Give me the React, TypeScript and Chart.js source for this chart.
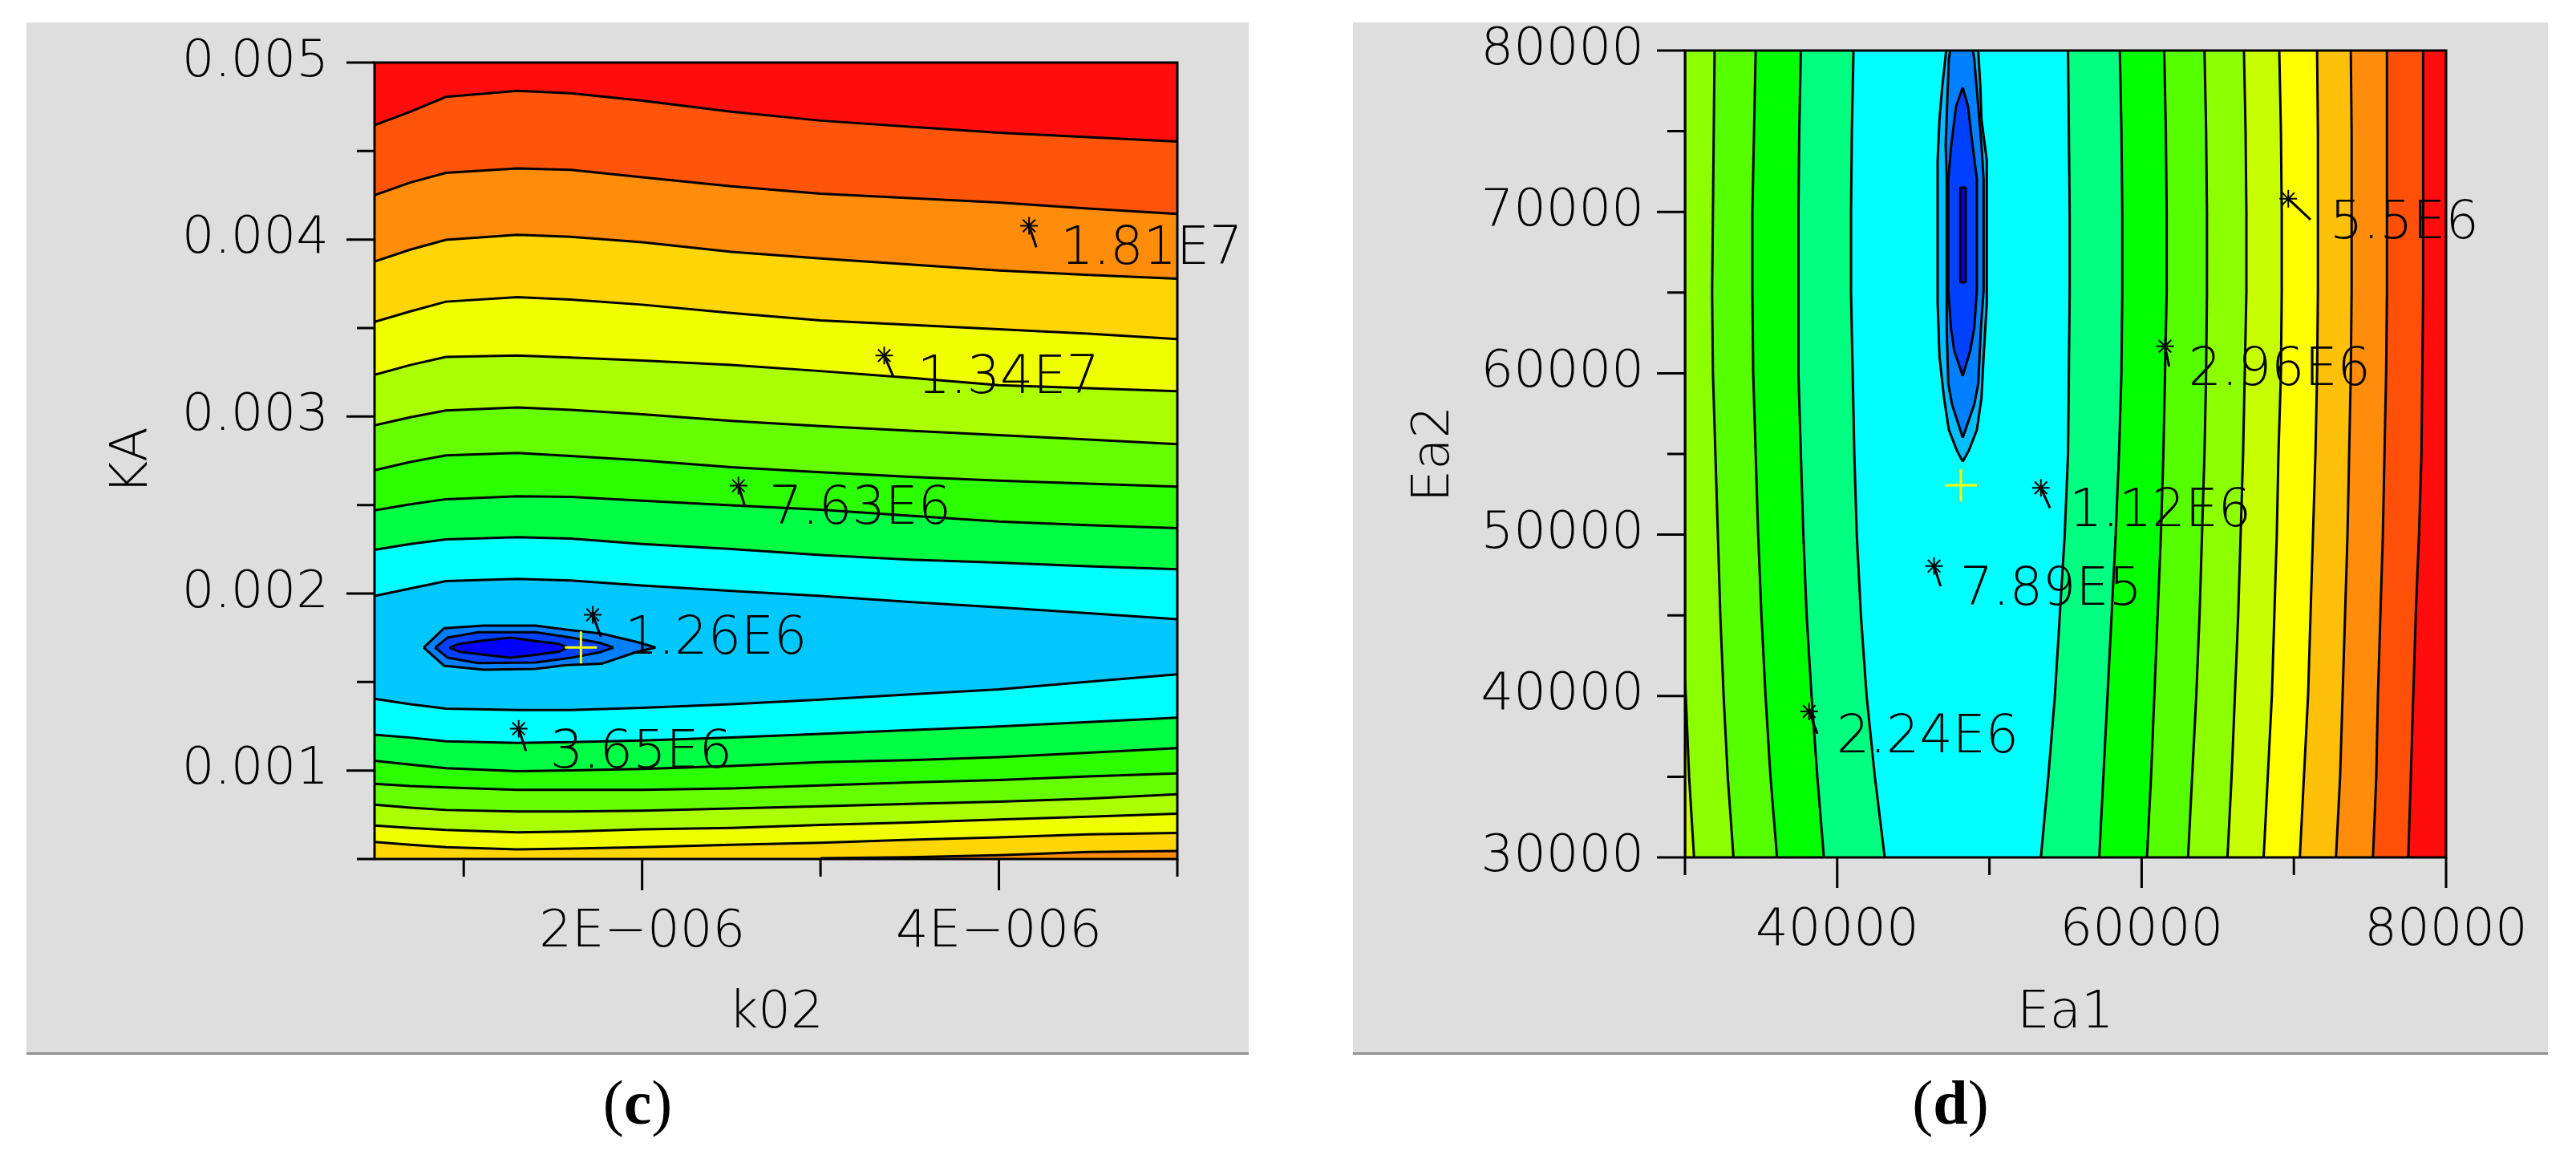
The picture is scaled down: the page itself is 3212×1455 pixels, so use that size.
import { useEffect, useRef } from "react";
import Chart from "chart.js/auto";

const FONT_FAMILY = '"DejaVu Sans"';

// ---- panel (c) ----
const K02_GRID = [0.5e-6, 0.7e-6, 0.9e-6, 1.3e-6, 1.6e-6, 2e-6, 2.5e-6, 3e-6, 3.5e-6, 4e-6, 4.5e-6, 5e-6];
const K02_TICKS = [1e-6, 2e-6, 3e-6, 4e-6, 5e-6];
const K02_TICK_LABELS = ["", "2E\u2212006", "", "4E\u2212006", ""];
const KA_TICKS = [0.5e-3, 1e-3, 1.5e-3, 2e-3, 2.5e-3, 3e-3, 3.5e-3, 4e-3, 4.5e-3, 5e-3];
const KA_TICK_LABELS = ["", "0.001", "", "0.002", "", "0.003", "", "0.004", "", "0.005"];

const KA_TOP = [5e-3, 5e-3, 5e-3, 5e-3, 5e-3, 5e-3, 5e-3, 5e-3, 5e-3, 5e-3, 5e-3, 5e-3];
const KA_LINE_1 = [4.646e-3, 4.722e-3, 4.806e-3, 4.84e-3, 4.827e-3, 4.785e-3, 4.722e-3, 4.672e-3, 4.638e-3, 4.604e-3, 4.579e-3, 4.554e-3];
const KA_LINE_2 = [4.251e-3, 4.322e-3, 4.377e-3, 4.402e-3, 4.394e-3, 4.352e-3, 4.301e-3, 4.259e-3, 4.234e-3, 4.209e-3, 4.175e-3, 4.145e-3];
const KA_LINE_3 = [3.876e-3, 3.943e-3, 3.998e-3, 4.027e-3, 4.015e-3, 3.985e-3, 3.931e-3, 3.893e-3, 3.859e-3, 3.825e-3, 3.8e-3, 3.779e-3];
const KA_LINE_4 = [3.535e-3, 3.594e-3, 3.649e-3, 3.674e-3, 3.661e-3, 3.632e-3, 3.585e-3, 3.543e-3, 3.518e-3, 3.493e-3, 3.468e-3, 3.438e-3];
const KA_LINE_5 = [3.236e-3, 3.291e-3, 3.337e-3, 3.345e-3, 3.333e-3, 3.316e-3, 3.291e-3, 3.257e-3, 3.219e-3, 3.177e-3, 3.16e-3, 3.143e-3];
const KA_LINE_6 = [2.95e-3, 2.996e-3, 3.034e-3, 3.051e-3, 3.038e-3, 3.013e-3, 2.975e-3, 2.946e-3, 2.92e-3, 2.895e-3, 2.87e-3, 2.844e-3];
const KA_LINE_7 = [2.697e-3, 2.743e-3, 2.781e-3, 2.794e-3, 2.777e-3, 2.752e-3, 2.714e-3, 2.685e-3, 2.659e-3, 2.638e-3, 2.621e-3, 2.604e-3];
const KA_LINE_8 = [2.47e-3, 2.504e-3, 2.533e-3, 2.55e-3, 2.546e-3, 2.525e-3, 2.499e-3, 2.474e-3, 2.44e-3, 2.407e-3, 2.386e-3, 2.369e-3];
const KA_LINE_9 = [2.247e-3, 2.28e-3, 2.306e-3, 2.318e-3, 2.31e-3, 2.28e-3, 2.251e-3, 2.217e-3, 2.192e-3, 2.175e-3, 2.154e-3, 2.137e-3];
const KA_LINE_10 = [1.986e-3, 2.028e-3, 2.07e-3, 2.083e-3, 2.074e-3, 2.045e-3, 2.015e-3, 1.986e-3, 1.952e-3, 1.922e-3, 1.889e-3, 1.855e-3];
const KA_LINE_11 = [1.405e-3, 1.375e-3, 1.35e-3, 1.342e-3, 1.342e-3, 1.354e-3, 1.375e-3, 1.401e-3, 1.43e-3, 1.459e-3, 1.501e-3, 1.544e-3];
const KA_LINE_12 = [1.203e-3, 1.186e-3, 1.165e-3, 1.156e-3, 1.16e-3, 1.169e-3, 1.186e-3, 1.207e-3, 1.228e-3, 1.249e-3, 1.274e-3, 1.299e-3];
const KA_LINE_13 = [1.055e-3, 1.034e-3, 1.013e-3, 0.996e-3, 1.001e-3, 1.009e-3, 1.026e-3, 1.047e-3, 1.059e-3, 1.076e-3, 1.101e-3, 1.127e-3];
const KA_LINE_14 = [0.925e-3, 0.912e-3, 0.904e-3, 0.891e-3, 0.891e-3, 0.891e-3, 0.899e-3, 0.916e-3, 0.933e-3, 0.946e-3, 0.967e-3, 0.984e-3];
const KA_LINE_15 = [0.807e-3, 0.79e-3, 0.777e-3, 0.769e-3, 0.769e-3, 0.773e-3, 0.786e-3, 0.798e-3, 0.811e-3, 0.824e-3, 0.841e-3, 0.866e-3];
const KA_LINE_16 = [0.689e-3, 0.676e-3, 0.664e-3, 0.651e-3, 0.655e-3, 0.668e-3, 0.676e-3, 0.693e-3, 0.706e-3, 0.723e-3, 0.739e-3, 0.756e-3];
const KA_LINE_17 = [0.596e-3, 0.58e-3, 0.567e-3, 0.554e-3, 0.559e-3, 0.567e-3, 0.58e-3, 0.592e-3, 0.609e-3, 0.622e-3, 0.639e-3, 0.647e-3];
const KA_EDGE_K02 = [3e-6, 3.5e-6, 4e-6, 4.5e-6, 5e-6];
const KA_EDGE = [0.505e-3, 0.51e-3, 0.522e-3, 0.54e-3, 0.545e-3];

// colour below each line, top to bottom
const KA_LINES = [KA_LINE_1, KA_LINE_2, KA_LINE_3, KA_LINE_4, KA_LINE_5, KA_LINE_6, KA_LINE_7, KA_LINE_8, KA_LINE_9, KA_LINE_10, KA_LINE_11, KA_LINE_12, KA_LINE_13, KA_LINE_14, KA_LINE_15, KA_LINE_16, KA_LINE_17];
const KA_BAND_COLORS = ["#FF550A", "#FF8C0A", "#FFD605", "#F0FF00", "#AAFF00", "#66FF00", "#2BFF00", "#00FF44", "#00FFFF", "#00C8FF", "#00FFFF", "#00FF44", "#2BFF00", "#66FF00", "#AAFF00", "#F0FF00", "#FFD605"];

const BLOB1_K02 = [0.776e-6, 0.89e-6, 1.111e-6, 1.402e-6, 1.573e-6, 1.773e-6, 1.964e-6, 2.075e-6];
const BLOB1_UP = [1.695e-3, 1.804e-3, 1.819e-3, 1.819e-3, 1.796e-3, 1.773e-3, 1.728e-3, 1.695e-3];
const BLOB1_LOW = [1.695e-3, 1.592e-3, 1.569e-3, 1.574e-3, 1.595e-3, 1.603e-3, 1.668e-3, 1.695e-3];
const BLOB2_K02 = [0.84e-6, 0.91e-6, 1.081e-6, 1.402e-6, 1.603e-6, 1.763e-6, 1.84e-6];
const BLOB2_UP = [1.695e-3, 1.751e-3, 1.781e-3, 1.781e-3, 1.751e-3, 1.721e-3, 1.695e-3];
const BLOB2_LOW = [1.695e-3, 1.637e-3, 1.607e-3, 1.61e-3, 1.637e-3, 1.668e-3, 1.695e-3];
const BLOB3_K02 = [0.92e-6, 0.977e-6, 1.121e-6, 1.262e-6, 1.402e-6, 1.533e-6, 1.582e-6];
const BLOB3_UP = [1.695e-3, 1.716e-3, 1.736e-3, 1.751e-3, 1.731e-3, 1.716e-3, 1.695e-3];
const BLOB3_LOW = [1.695e-3, 1.671e-3, 1.653e-3, 1.637e-3, 1.653e-3, 1.671e-3, 1.695e-3];

const C_BEST = { x: 1.657e-6, y: 1.695e-3 };
const C_MARK_TEXT = ["1.81E7", "1.34E7", "7.63E6", "1.26E6", "3.65E6"];
const C_MARK_X = [4.169e-6, 3.357e-6, 2.54e-6, 1.723e-6, 1.308e-6];
const C_MARK_Y = [4.078e-3, 3.345e-3, 2.609e-3, 1.88e-3, 1.236e-3];
const C_TAIL_X = [4.21e-6, 3.407e-6, 2.577e-6, 1.769e-6, 1.349e-6];
const C_TAIL_Y = [3.956e-3, 3.228e-3, 2.491e-3, 1.754e-3, 1.11e-3];

// ---- panel (d) ----
const EA2_GRID = [30000, 35000, 40000, 45000, 50000, 55000, 60000, 65000, 70000, 75000, 80000];
const EA2_TICKS = [30000, 35000, 40000, 45000, 50000, 55000, 60000, 65000, 70000, 75000, 80000];
const EA2_TICK_LABELS = ["30000", "", "40000", "", "50000", "", "60000", "", "70000", "", "80000"];
const EA1_TICKS = [30000, 40000, 50000, 60000, 70000, 80000];
const EA1_TICK_LABELS = ["", "40000", "", "60000", "", "80000"];

const EA1_LEFT = [30000, 30000, 30000, 30000, 30000, 30000, 30000, 30000, 30000, 30000, 30000];
const EA1_LINE_1 = [33186, 32808, 32538, 32322, 32160, 31998, 31836, 31782, 31836, 31890, 31944];
const EA1_LINE_2 = [36048, 35616, 35292, 35022, 34806, 34644, 34482, 34428, 34428, 34536, 34644];
const EA1_LINE_3 = [39126, 38694, 38316, 37992, 37776, 37614, 37452, 37452, 37452, 37506, 37614];
const EA1_LINE_4 = [43122, 42474, 41934, 41556, 41286, 41124, 41016, 40908, 40908, 40962, 41070];
const EA1_LINE_5 = [53382, 53868, 54300, 54624, 54948, 55164, 55218, 55272, 55272, 55218, 55164];
const EA1_LINE_6 = [57216, 57486, 57756, 58026, 58296, 58512, 58674, 58728, 58728, 58674, 58566];
const EA1_LINE_7 = [60348, 60618, 60834, 61050, 61266, 61428, 61536, 61644, 61644, 61590, 61482];
const EA1_LINE_8 = [63048, 63318, 63588, 63804, 63966, 64128, 64236, 64290, 64290, 64236, 64128];
const EA1_LINE_9 = [65640, 65910, 66126, 66342, 66504, 66666, 66774, 66882, 66882, 66828, 66720];
const EA1_LINE_10 = [68016, 68286, 68556, 68718, 68880, 68988, 69150, 69204, 69204, 69150, 69042];
const EA1_LINE_11 = [70392, 70662, 70932, 71094, 71256, 71418, 71526, 71580, 71580, 71580, 71526];
const EA1_LINE_12 = [72768, 73038, 73200, 73362, 73524, 73632, 73740, 73794, 73794, 73794, 73740];
const EA1_LINE_13 = [75198, 75414, 75522, 75684, 75846, 75954, 76062, 76116, 76116, 76116, 76116];
const EA1_LINE_14 = [77520, 77682, 77844, 78006, 78222, 78384, 78438, 78492, 78492, 78492, 78492];
const EA1_CORNER = [30594, 30270, 30054, 30000];
const EA2_CORNER = [30000, 35000, 40000, 41000];

// colour to the right of each line, left to right
const EA1_LINES = [EA1_LEFT, EA1_LINE_1, EA1_LINE_2, EA1_LINE_3, EA1_LINE_4, EA1_LINE_5, EA1_LINE_6, EA1_LINE_7, EA1_LINE_8, EA1_LINE_9, EA1_LINE_10, EA1_LINE_11, EA1_LINE_12, EA1_LINE_13, EA1_LINE_14];
const EA1_BAND_COLORS = ["#8CFF00", "#55FF00", "#00FF00", "#00FF80", "#00FFFF", "#00FF80", "#00FF00", "#55FF00", "#8CFF00", "#C8FF00", "#FFFF00", "#FFC00A", "#FF8C0A", "#FF500A", "#FF0D0D"];

const D_BLOB1_Y = [54531, 55219, 56496, 58460, 61014, 64353, 73193, 75747, 77711, 80000];
const D_BLOB1_L = [48248, 47861, 47334, 47018, 46720, 46597, 46597, 46720, 46895, 47159];
const D_BLOB1_R = [48248, 48652, 49179, 49477, 49618, 49829, 49829, 49477, 49407, 49266];
const D_BLOB2_Y = [56004, 58067, 59344, 62782, 65139, 72014, 74175, 79479, 80000];
const D_BLOB2_L = [48248, 47545, 47299, 47194, 47194, 47194, 47124, 47334, 47422];
const D_BLOB2_R = [48248, 49003, 49266, 49442, 49618, 49618, 49477, 49003, 48915];
const D_BLOB3_Y = [59835, 61407, 62782, 65139, 72014, 73979, 75354, 76533, 77711];
const D_BLOB3_L = [48248, 47686, 47475, 47299, 47299, 47475, 47650, 47809, 48248];
const D_BLOB3_R = [48248, 48740, 49003, 49179, 49179, 48915, 48740, 48599, 48248];
const D_BLOB4_Y = [65600, 65680, 71480, 71523];
const D_BLOB4_L = [48265, 48090, 48090, 48265];
const D_BLOB4_R = [48265, 48441, 48441, 48265];

const D_BEST = { x: 48125, y: 53058 };
const D_MARK_TEXT = ["5.5E6", "2.96E6", "1.12E6", "7.89E5", "2.24E6"];
const D_MARK_X = [69636, 61536, 53382, 46362, 38154];
const D_MARK_Y = [70812, 61671, 52898, 48050, 39047];
const D_TAIL_X = [71094, 61806, 53976, 46794, 38694];
const D_TAIL_Y = [69519, 60424, 51652, 46804, 37662];

const zip = (xs: number[], ys: number[]) => xs.map((x, i) => ({ x, y: ys[i] }));

const contour = (data: any[], color: string, fill: any) => ({
  data,
  borderColor: "#000",
  borderWidth: 3,
  backgroundColor: color,
  fill,
  pointRadius: 0,
  tension: 0,
});

const markers = (xs: number[], ys: number[], tx: number[], ty: number[]) =>
  xs.map((x, i) => ({
    data: [{ x, y: ys[i] }, { x: tx[i], y: ty[i] }],
    borderColor: "#000",
    borderWidth: 3,
    fill: false,
    pointStyle: "star",
    pointRadius: [11, 0],
    pointBorderColor: "#000",
    pointBorderWidth: 2,
  }));

const bestPoint = (p: { x: number; y: number }) => ({
  data: [p],
  showLine: false,
  fill: false,
  pointStyle: "cross",
  pointRadius: 20,
  pointBorderColor: "#FFFF00",
  pointBorderWidth: 3,
});

// axis box, ticks and the value notes next to the stars
function decorPlugin(longTick: number, shortTick: number, marks: { text: string[]; x: number[]; y: number[]; gap: number; drop: number }) {
  return {
    id: "decor",
    afterDatasetsDraw(chart: any) {
      const { ctx, chartArea: a, scales } = chart;
      ctx.save();
      ctx.strokeStyle = "#000";
      ctx.lineWidth = 3;
      ctx.strokeRect(a.left, a.top, a.right - a.left, a.bottom - a.top);
      ctx.beginPath();
      scales.x.ticks.forEach((t: any, i: number) => {
        const px = scales.x.getPixelForTick(i);
        ctx.moveTo(px, a.bottom);
        ctx.lineTo(px, a.bottom + (t.label ? longTick : shortTick));
      });
      scales.y.ticks.forEach((t: any, i: number) => {
        const py = scales.y.getPixelForTick(i);
        ctx.moveTo(a.left, py);
        ctx.lineTo(a.left - (t.label ? 35 : 22), py);
      });
      ctx.stroke();
      ctx.fillStyle = "#000";
      ctx.font = `200 65px ${FONT_FAMILY}`;
      ctx.textAlign = "left";
      ctx.textBaseline = "middle";
      marks.text.forEach((s, i) => {
        ctx.fillText(s, scales.x.getPixelForValue(marks.x[i]) + marks.gap, scales.y.getPixelForValue(marks.y[i]) + marks.drop);
      });
      ctx.restore();
    },
  };
}

function axisOptions(cfg: any) {
  const { min, max, ticks, labels, title, size, labelPad, titlePad, horizontal } = cfg;
  const font = { family: FONT_FAMILY, size: 64, weight: "200" };
  return {
    type: "linear",
    min,
    max,
    afterBuildTicks: (s: any) => {
      s.ticks = ticks.map((value: number) => ({ value }));
    },
    afterFit: (s: any) => {
      if (horizontal) s.height = size;
      else s.width = size;
      s.paddingTop = s.paddingBottom = s.paddingLeft = s.paddingRight = 0;
    },
    grid: { display: false, drawTicks: false },
    border: { display: false },
    ticks: {
      autoSkip: false,
      maxRotation: 0,
      minRotation: 0,
      padding: labelPad,
      color: "#000",
      font,
      callback: (_v: any, i: number) => labels[i],
    },
    title: {
      display: true,
      text: title,
      color: "#000",
      font,
      padding: titlePad,
    },
  };
}

function baseOptions(x: any, y: any, padding: any, indexAxis: string) {
  return {
    indexAxis,
    responsive: false,
    animation: false,
    devicePixelRatio: 1,
    layout: { padding },
    scales: { x: axisOptions({ ...x, horizontal: true }), y: axisOptions(y) },
    plugins: {
      legend: { display: false },
      tooltip: { enabled: false },
      filler: { drawTime: "beforeDatasetsDraw", propagate: false },
    },
  };
}

function App() {
  const leftRef = useRef<HTMLCanvasElement>(null);
  const rightRef = useRef<HTMLCanvasElement>(null);

  useEffect(() => {
    const bands = KA_LINES.map((line, i) => contour(zip(K02_GRID, line), KA_BAND_COLORS[i], "start")).reverse();
    const left = new Chart(leftRef.current as any, {
      type: "line",
      data: {
        datasets: [
          bestPoint(C_BEST),
          ...markers(C_MARK_X, C_MARK_Y, C_TAIL_X, C_TAIL_Y),
          contour(zip(BLOB3_K02, BLOB3_UP), "#0000FF", "+1"),
          contour(zip(BLOB3_K02, BLOB3_LOW), "#0000FF", false),
          contour(zip(BLOB2_K02, BLOB2_UP), "#0040FF", "+1"),
          contour(zip(BLOB2_K02, BLOB2_LOW), "#0040FF", false),
          contour(zip(BLOB1_K02, BLOB1_UP), "#0080FF", "+1"),
          contour(zip(BLOB1_K02, BLOB1_LOW), "#0080FF", false),
          contour(zip(KA_EDGE_K02, KA_EDGE), "#FF8C0A", "start"),
          ...bands,
          { ...contour(zip(K02_GRID, KA_TOP), "#FF0D0D", "start"), borderWidth: 0 },
        ],
      },
      options: baseOptions(
        { min: 0.5e-6, max: 5e-6, ticks: K02_TICKS, labels: K02_TICK_LABELS, title: "k02", size: 241, labelPad: 54, titlePad: { top: 0, bottom: 9 } },
        { min: 0.5e-3, max: 5e-3, ticks: KA_TICKS, labels: KA_TICK_LABELS, title: "KA", size: 434, labelPad: 57, titlePad: { top: 95, bottom: 0 } },
        { top: 50, right: 89, left: 0, bottom: 0 },
        "x"
      ) as any,
      plugins: [decorPlugin(39, 22, { text: C_MARK_TEXT, x: C_TAIL_X, y: C_TAIL_Y, gap: 30, drop: 4 })],
    } as any);

    const stripes = EA1_LINES.map((line, i) => contour(zip(line, EA2_GRID), EA1_BAND_COLORS[i], { value: 80000 })).reverse();
    const right = new Chart(rightRef.current as any, {
      type: "line",
      data: {
        datasets: [
          bestPoint(D_BEST),
          ...markers(D_MARK_X, D_MARK_Y, D_TAIL_X, D_TAIL_Y),
          contour(zip(D_BLOB4_L, D_BLOB4_Y), "#0000FF", "+1"),
          contour(zip(D_BLOB4_R, D_BLOB4_Y), "#0000FF", false),
          contour(zip(D_BLOB3_L, D_BLOB3_Y), "#0040FF", "+1"),
          contour(zip(D_BLOB3_R, D_BLOB3_Y), "#0040FF", false),
          contour(zip(D_BLOB2_L, D_BLOB2_Y), "#0080FF", "+1"),
          contour(zip(D_BLOB2_R, D_BLOB2_Y), "#0080FF", false),
          contour(zip(D_BLOB1_L, D_BLOB1_Y), "#00BFFF", "+1"),
          contour(zip(D_BLOB1_R, D_BLOB1_Y), "#00BFFF", false),
          contour(zip(EA1_CORNER, EA2_CORNER), "#C8FF00", { value: 30000 }),
          ...stripes,
        ],
      },
      options: baseOptions(
        { min: 30000, max: 80000, ticks: EA1_TICKS, labels: EA1_TICK_LABELS, title: "Ea1", size: 243, labelPad: 54, titlePad: { top: 0, bottom: 9 } },
        { min: 30000, max: 80000, ticks: EA2_TICKS, labels: EA2_TICK_LABELS, title: "Ea2", size: 414, labelPad: 51, titlePad: { top: 64, bottom: 0 } },
        { top: 35, right: 127, left: 0, bottom: 0 },
        "y"
      ) as any,
      plugins: [decorPlugin(38, 22, { text: D_MARK_TEXT, x: D_TAIL_X, y: D_TAIL_Y, gap: 24, drop: 6 })],
    } as any);

    return () => {
      left.destroy();
      right.destroy();
    };
  }, []);

  const panel = (x: number, w: number): React.CSSProperties => ({
    position: "absolute",
    left: x,
    top: 28,
    width: w,
    height: 1284,
    background: "#DEDEDE",
    borderBottom: "3px solid #909090",
  });
  const caption = (x: number): React.CSSProperties => ({
    position: "absolute",
    left: x,
    top: 1333,
    width: 120,
    textAlign: "center",
    fontFamily: '"Liberation Serif", serif',
    fontSize: 78,
    lineHeight: "84px",
    color: "#000",
  });

  return (
    <div style={{ position: "absolute", left: 0, top: 0, width: 3212, height: 1455, background: "#fff", overflow: "hidden" }}>
      <div style={panel(33, 1524)}>
        <canvas ref={leftRef} width={1524} height={1284} style={{ display: "block" }} />
      </div>
      <div style={panel(1687, 1490)}>
        <canvas ref={rightRef} width={1490} height={1284} style={{ display: "block" }} />
      </div>
      <div style={caption(735)}>(<b>c</b>)</div>
      <div style={caption(2372)}>(<b>d</b>)</div>
    </div>
  );
}

export default App;
